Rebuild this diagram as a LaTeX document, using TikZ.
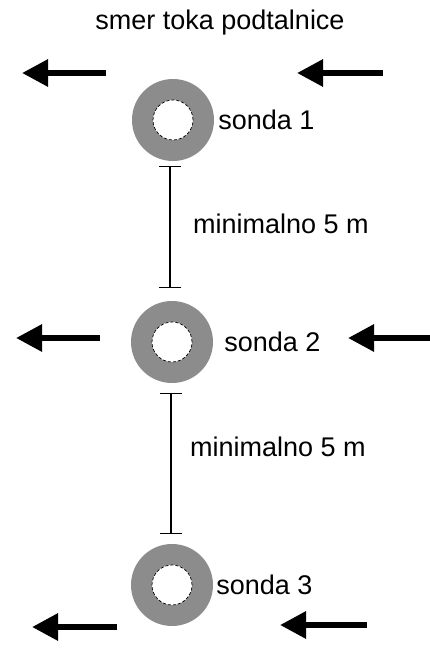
\documentclass[tikz,border=0pt]{standalone}
\usepackage{fontspec}
\setmainfont{Liberation Sans}
\usetikzlibrary{positioning,arrows.meta}
\definecolor{ringGray}{RGB}{140,140,140}

\begin{document}
\begin{tikzpicture}[x=1pt,y=-1pt,
    ring/.style={circle,fill=ringGray,minimum size=82pt,inner sep=0pt},
    hole/.style={circle,fill=white,draw=black,densely dashed,line width=0.7pt,minimum size=40pt,inner sep=0pt},
    lbl/.style={font=\fontsize{27}{30}\selectfont,inner sep=0pt},
    flow/.style={line width=6pt,-{Triangle[length=26pt,width=26pt]}},
    dim/.style={line width=1.1pt,{Bar[width=22pt]}-{Bar[width=22pt]}}
  ]
  \useasboundingbox (0,0) rectangle (430,653);

  % title
  \node[lbl] (title) at (220,23) {smer toka podtalnice};

  % probes
  \node[ring] (s1) at (173,120) {};
  \node[hole] (h1) at (s1) {};
  \node[lbl,right=4pt of s1] (t1) {sonda 1};

  \node[ring] (s2) at (172,342) {};
  \node[hole] (h2) at (s2) {};
  \node[lbl,right=11pt of s2] (t2) {sonda 2};

  \node[ring] (s3) at (172,585) {};
  \node[hole] (h3) at (s3) {};
  \node[lbl,right=3pt of s3] (t3) {sonda 3};

  % distances
  \draw[dim,shorten <=5pt,shorten >=13pt] (s1.south -| 170,0) -- (s2.north -| 170,0);
  \node[lbl,anchor=west] (d1) at (193,224) {minimalno 5 m};
  \draw[dim,shorten <=10pt,shorten >=10pt] (s2.south -| 171,0) -- (s3.north -| 171,0);
  \node[lbl,anchor=west] (d2) at (190,447) {minimalno 5 m};

  % groundwater flow
  \coordinate (a1) at (106,73);  \coordinate (b1) at (22,73);
  \coordinate (a2) at (383,73);  \coordinate (b2) at (297,73);
  \coordinate (a3) at (100,338); \coordinate (b3) at (16,338);
  \coordinate (a4) at (430,338); \coordinate (b4) at (348,338);
  \coordinate (a5) at (117,627); \coordinate (b5) at (32,627);
  \coordinate (a6) at (367,625); \coordinate (b6) at (280,625);
  \foreach \i in {1,...,6}
    \draw[flow] (a\i) -- (b\i);
\end{tikzpicture}
\end{document}
